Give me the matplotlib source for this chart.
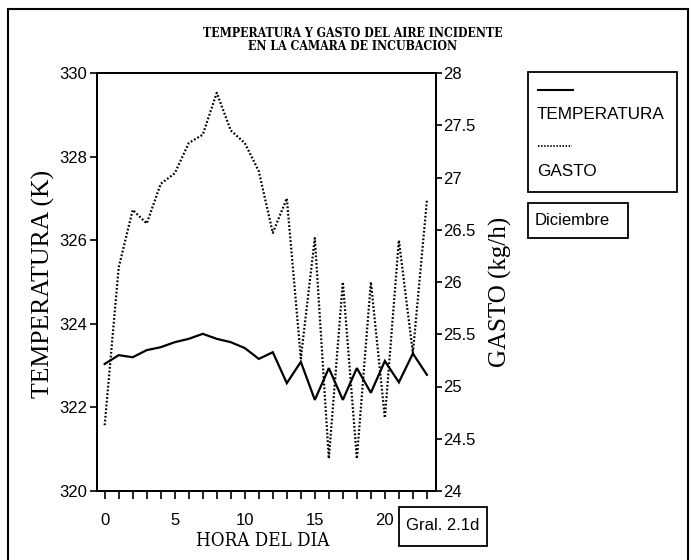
import matplotlib
matplotlib.use("Agg")
import matplotlib.pyplot as plt
from matplotlib.lines import Line2D
from matplotlib.patches import Rectangle
from matplotlib.ticker import FuncFormatter, MultipleLocator

# Hourly readings of the incubation chamber inlet air
hours = list(range(24))
temperatura_k = [323.04, 323.25, 323.20, 323.37, 323.44, 323.56, 323.64, 323.76,
                 323.64, 323.56, 323.42, 323.16, 323.32, 322.58, 323.09, 322.18,
                 322.94, 322.18, 322.94, 322.35, 323.11, 322.60, 323.29, 322.78]
gasto_kgh = [24.63, 26.14, 26.69, 26.56, 26.94, 27.04, 27.33, 27.41,
             27.81, 27.45, 27.33, 27.06, 26.47, 26.80, 25.27, 26.42,
             24.31, 26.00, 24.31, 26.00, 24.70, 26.40, 25.32, 26.78]

titulo = "TEMPERATURA Y GASTO DEL AIRE INCIDENTE\nEN LA CAMARA DE INCUBACION"
serie_labels = ["TEMPERATURA", "GASTO"]
mes = "Diciembre"
grafica = "Gral. 2.1d"

W, H = 691, 560
fig = plt.figure(figsize=(W / 100, H / 100), dpi=100)
fig.patch.set_facecolor("white")

def fx(px):
    return px / W

def fy(py):
    return 1 - py / H

sans = ["Liberation Sans", "DejaVu Sans"]
serif = ["Liberation Serif", "DejaVu Serif"]
narrow_serif = ["DejaVu Serif"]

ax = fig.add_axes([fx(97), fy(491), fx(436) - fx(97), fy(73) - fy(491)])
ax2 = ax.twinx()

ax.plot(hours, temperatura_k, color="black", lw=1.6, solid_joinstyle="miter")
ax2.plot(hours, gasto_kgh, color="black", lw=1.6, linestyle=(0, (0.8, 0.9)))

ax.set_xlim(-0.55, 23.65)
ax.set_ylim(320, 330)
ax2.set_ylim(24, 28)

ax.xaxis.set_major_locator(MultipleLocator(5))
ax.xaxis.set_minor_locator(MultipleLocator(1))
ax.yaxis.set_major_locator(MultipleLocator(2))
ax2.yaxis.set_major_locator(MultipleLocator(0.5))
ax2.yaxis.set_major_formatter(FuncFormatter(lambda v, p: f"{v:g}"))

for a in (ax, ax2):
    for s in a.spines.values():
        s.set_linewidth(1.4)
        s.set_color("black")

ax.tick_params(axis="x", which="both", direction="out", length=6, width=1.2,
               pad=10, labelsize=12)
ax.tick_params(axis="y", direction="out", length=5, width=1.2, pad=2, labelsize=12)
ax2.tick_params(axis="y", direction="out", length=4, width=1.2, pad=1, labelsize=12)
for lab in ax.get_xticklabels() + ax.get_yticklabels() + ax2.get_yticklabels():
    lab.set_family(sans)

# Titles and axis names
fig.text(fx(353), fy(40), titulo, ha="center", va="center", family=narrow_serif,
         fontstretch="condensed", fontsize=8.8, fontweight="bold", linespacing=1.05)
fig.text(fx(43), fy(284), "TEMPERATURA (K)", rotation=90, ha="center",
         va="center", family=serif, fontsize=18.5)
fig.text(fx(500), fy(292), "GASTO (kg/h)", rotation=90, ha="center",
         va="center", family=serif, fontsize=18)
fig.text(fx(263), fy(541), "HORA DEL DIA", ha="center", va="center",
         family=narrow_serif, fontstretch="condensed", fontsize=13.5)

# Legend box
fig.add_artist(Rectangle((fx(528), fy(192)), fx(677) - fx(528), fy(72) - fy(192),
                         transform=fig.transFigure, fill=False, lw=1.3, color="black"))
fig.add_artist(Line2D([fx(538), fx(573)], [fy(90), fy(90)], transform=fig.transFigure,
                      color="black", lw=1.5))
fig.text(fx(537), fy(115), serie_labels[0], ha="left", va="center", family=sans,
         fontsize=12.3)
fig.add_artist(Line2D([fx(538), fx(572)], [fy(146), fy(146)], transform=fig.transFigure,
                      color="black", lw=1.3, linestyle=(0, (0.8, 0.9))))
fig.text(fx(537), fy(172), serie_labels[1], ha="left", va="center", family=sans,
         fontsize=12.3)

# Month box
fig.add_artist(Rectangle((fx(528), fy(238)), fx(628) - fx(528), fy(203) - fy(238),
                         transform=fig.transFigure, fill=False, lw=1.3, color="black"))
fig.text(fx(535), fy(221), mes, ha="left", va="center", family=sans, fontsize=12)

# Figure number box
fig.add_artist(Rectangle((fx(399), fy(546)), fx(487) - fx(399), fy(507) - fy(546),
                         transform=fig.transFigure, fill=False, lw=1.3, color="black"))
fig.text(fx(443), fy(526), grafica, ha="center", va="center", family=sans, fontsize=12)

# Page frame
fig.add_artist(Rectangle((fx(8), fy(575)), fx(688) - fx(8), fy(9) - fy(575),
                         transform=fig.transFigure, fill=False, lw=1.5, color="black"))

fig.savefig("out.png", dpi=100, facecolor="white")
